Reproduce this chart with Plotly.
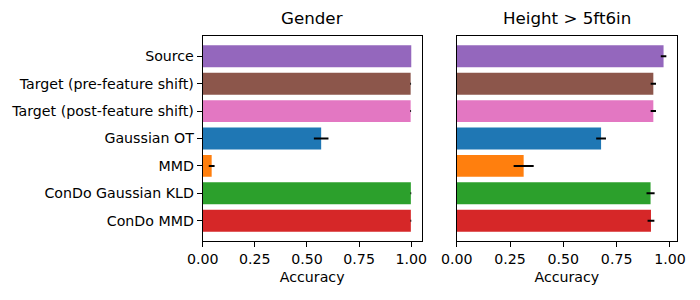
import plotly.graph_objects as go

categories = ["Source", "Target (pre-feature shift)", "Target (post-feature shift)",
              "Gaussian OT", "MMD", "ConDo Gaussian KLD", "ConDo MMD"]
colors = ["#9467bd", "#8c564b", "#e377c2", "#1f77b4", "#ff7f0e", "#2ca02c", "#d62728"]

gender_acc = [1.0, 0.997, 0.997, 0.568, 0.043, 0.998, 0.998]
gender_err = [0.0, 0.002, 0.002, 0.035, 0.014, 0.002, 0.002]

height_acc = [0.970, 0.922, 0.922, 0.677, 0.314, 0.909, 0.911]
height_err = [0.013, 0.0125, 0.0125, 0.023, 0.047, 0.019, 0.016]

xticks = [0.0, 0.25, 0.5, 0.75, 1.0]
xtick_labels = ["0.00", "0.25", "0.50", "0.75", "1.00"]

W, H = 700, 300
FONT = "DejaVu Sans"
FS = 14.2

fig = go.Figure()
for xa, ya, vals, errs in [("x", "y", gender_acc, gender_err), ("x2", "y2", height_acc, height_err)]:
    fig.add_trace(go.Bar(
        x=vals, y=categories, orientation="h",
        marker=dict(color=colors, line=dict(width=0)),
        error_x=dict(type="data", array=errs, symmetric=True, color="black",
                     thickness=2, width=0),
        xaxis=xa, yaxis=ya, showlegend=False,
    ))

def px_x(p):
    return p / W

def px_y(p):
    return 1 - p / H

common_x = dict(tickvals=xticks, ticktext=xtick_labels, ticks="outside", ticklen=5,
                tickwidth=1, tickcolor="black", showline=True, linecolor="black",
                linewidth=1, mirror=True, showgrid=False, zeroline=False, automargin=False,
                tickfont=dict(family=FONT, size=FS, color="black"),
                title=dict(text="Accuracy", font=dict(family=FONT, size=FS, color="black"),
                           standoff=6))
common_y = dict(type="category", categoryorder="array", categoryarray=categories,
                range=[6.74, -0.74], showline=True, linecolor="black", linewidth=1,
                mirror=True, showgrid=False, zeroline=False, automargin=False,
                tickfont=dict(family=FONT, size=FS, color="black"))

fig.update_layout(
    width=W, height=H, margin=dict(l=0, r=0, t=0, b=0),
    paper_bgcolor="white", plot_bgcolor="white",
    bargap=0.2,
    font=dict(family=FONT, color="black"),
    xaxis=dict(domain=[px_x(202.7), px_x(421.7)], range=[0, 1.05], anchor="y", **common_x),
    xaxis2=dict(domain=[px_x(456.7), px_x(677)], range=[0, 1.033], anchor="y2", **common_x),
    yaxis=dict(domain=[px_y(241), px_y(36)], anchor="x", ticks="outside", ticklen=5,
               tickwidth=1, tickcolor="black", **common_y),
    yaxis2=dict(domain=[px_y(241), px_y(36)], anchor="x2", ticks="", showticklabels=False,
                **common_y),
    annotations=[
        dict(text="Gender", xref="paper", yref="paper", x=(202.7 + 421.7) / 2 / W,
             y=px_y(30), xanchor="center", yanchor="bottom", showarrow=False,
             font=dict(family=FONT, size=16.7, color="black")),
        dict(text="Height > 5ft6in", xref="paper", yref="paper", x=(456.7 + 677) / 2 / W,
             y=px_y(30), xanchor="center", yanchor="bottom", showarrow=False,
             font=dict(family=FONT, size=16.7, color="black")),
    ],
)

fig.write_html("out.html", config={"displayModeBar": False},
               post_script="document.body.style.margin='0';")
